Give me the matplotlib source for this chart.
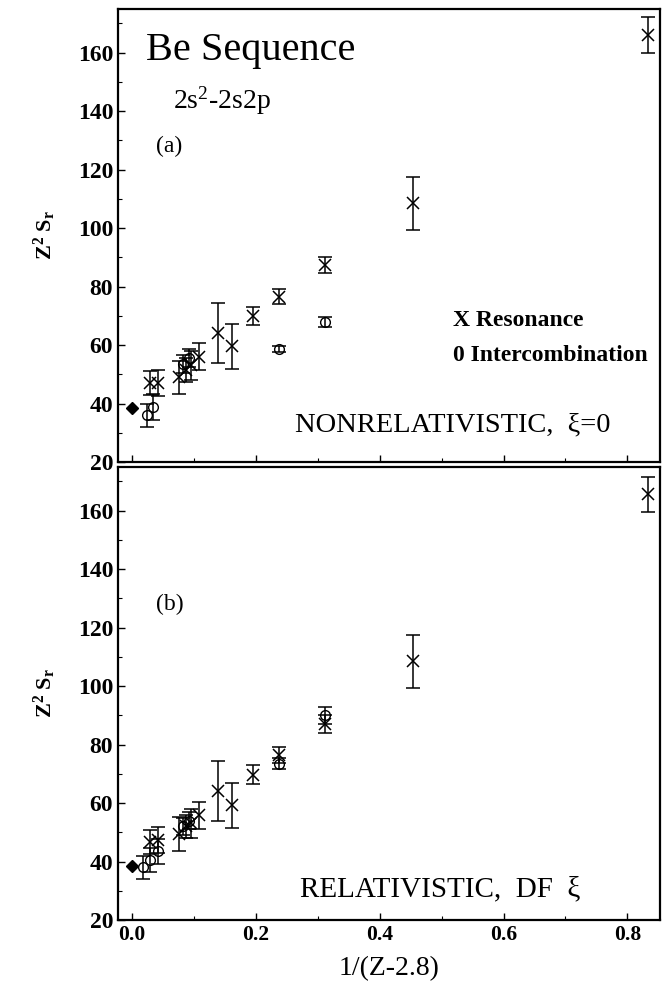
import matplotlib
matplotlib.use("Agg")
import matplotlib.pyplot as plt
from matplotlib.ticker import MultipleLocator

plt.rcParams['font.family'] = ['Liberation Serif', 'DejaVu Serif']
plt.rcParams['mathtext.fontset'] = 'custom'
plt.rcParams['mathtext.rm'] = 'Liberation Serif:bold'
plt.rcParams['mathtext.it'] = 'Liberation Serif:bold'
plt.rcParams['mathtext.bf'] = 'Liberation Serif:bold'

# ---- data ----
res_x = [0.030, 0.043, 0.077, 0.087, 0.095, 0.108, 0.139, 0.162, 0.196, 0.238, 0.3125, 0.4545, 0.833]
a_res = [47, 47, 49, 51.5, 53, 56, 64, 59.5, 70, 76.5, 87.3, 108.5, 166]
a_res_err = [4, 4.5, 5.7, 4, 5, 4.6, 10.3, 7.6, 3, 2.6, 2.8, 9, 6]
b_res = [46.7, 47.3, 49.4, 52, 53, 55.8, 64, 59.2, 69.7, 76.5, 87, 108.5, 165.5]
b_res_err = [4, 4.5, 5.7, 4, 5, 4.6, 10.3, 7.6, 3.2, 2.8, 3, 9, 6]

a_int_x = [0.024, 0.034, 0.083, 0.092, 0.238, 0.3125]
a_int = [36, 38.8, 53.5, 55.5, 58.5, 67.8]
a_int_err = [4, 4.5, 3, 3, 1, 1.8]
b_int_x = [0.018, 0.030, 0.043, 0.083, 0.092, 0.238, 0.3125]
b_int = [38, 40.5, 43.5, 52, 54, 73.5, 90]
b_int_err = [4, 4, 4.3, 3, 3, 2, 3]

limit_x = [0.0]
limit_y = [38.5]

xticks = [0.0, 0.2, 0.4, 0.6, 0.8]
xticklabels = ['0.0', '0.2', '0.4', '0.6', '0.8']
yticks = [20, 40, 60, 80, 100, 120, 140, 160]

W, H = 666, 991
fig = plt.figure(figsize=(W / 100, H / 100), dpi=100)
ax_a = fig.add_axes([118 / W, 1 - 462 / H, 542 / W, 453.3 / H])
ax_b = fig.add_axes([118 / W, 1 - 920 / H, 542 / W, 453.3 / H])

ebkw = dict(fmt='none', ecolor='black', elinewidth=1.1, capsize=5, capthick=1.1)


def draw(ax, rx, ry, rerr, ix, iy, ierr):
    ax.errorbar(rx, ry, yerr=rerr, **ebkw)
    ax.errorbar(ix, iy, yerr=ierr, **ebkw)
    ax.plot(rx, ry, ls='none', marker='x', ms=8, mew=1.1, color='black')
    ax.plot(ix, iy, ls='none', marker='o', ms=7, mfc='none', mew=1.0, color='black')
    ax.plot(limit_x, limit_y, ls='none', marker='D', ms=6.5, color='black')
    ax.set_xlim(-0.022, 0.8525)
    ax.set_ylim(20, 175)
    ax.set_xticks(xticks)
    ax.xaxis.set_minor_locator(MultipleLocator(0.1))
    ax.set_yticks(yticks)
    ax.yaxis.set_minor_locator(MultipleLocator(10))
    ax.tick_params(direction='in', which='major', length=5, width=1.0,
                   top=False, right=False)
    ax.tick_params(axis='y', labelsize=17)
    ax.tick_params(axis='x', labelsize=15.5)
    ax.tick_params(direction='in', which='minor', length=3, width=0.8,
                   top=False, right=False)
    for s in ax.spines.values():
        s.set_linewidth(1.6)
    for lab in ax.get_yticklabels() + ax.get_xticklabels():
        lab.set_fontweight('bold')
    ax.set_ylabel(r'Z$^{2}$ S$_{\mathrm{r}}$', fontsize=16, fontweight='bold', labelpad=14)


draw(ax_a, res_x, a_res, a_res_err, a_int_x, a_int, a_int_err)
draw(ax_b, res_x, b_res, b_res_err, b_int_x, b_int, b_int_err)

ax_a.tick_params(labelbottom=False)
ax_b.set_xticklabels(xticklabels)
for lab in ax_b.get_xticklabels():
    lab.set_fontweight('bold')
ax_b.set_xlabel('1/(Z-2.8)', fontsize=20, labelpad=8)

ax_a.text(0.023, 157.5, 'Be Sequence', fontsize=29)
ax_a.text(0.067, 141, r'2s$^{\mathregular{2}}$-2s2p', fontsize=20)
ax_a.text(0.04, 126, '(a)', fontsize=17)
ax_a.text(0.519, 66.5, 'X Resonance', fontsize=17, fontweight='bold')
ax_a.text(0.519, 54.5, '0 Intercombination', fontsize=17, fontweight='bold')
ax_a.text(0.264, 30.3, 'NONRELATIVISTIC,  \u03be=0', fontsize=20.5)

ax_b.text(0.04, 126, '(b)', fontsize=17)
ax_b.text(0.272, 28, 'RELATIVISTIC,  DF  \u03be', fontsize=21)

fig.savefig('out.png', dpi=100)
